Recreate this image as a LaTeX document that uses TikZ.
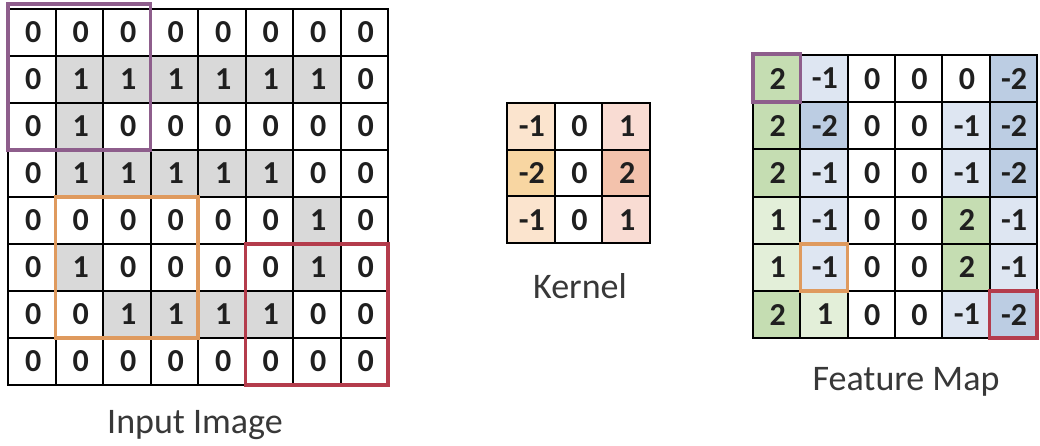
\documentclass[tikz,border=0pt]{standalone}
\usepackage{fontspec}
\setmainfont{Carlito}
\definecolor{gcell}{HTML}{D9D9D9}
\definecolor{kpeach}{HTML}{FBE4CE}
\definecolor{kyel}{HTML}{F8D6A2}
\definecolor{krose}{HTML}{F9DCD3}
\definecolor{krose2}{HTML}{F3C2AC}
\definecolor{fgreen}{HTML}{C5DDB2}
\definecolor{flgreen}{HTML}{E3EFD9}
\definecolor{fblue}{HTML}{BCCDE3}
\definecolor{flblue}{HTML}{DEE6F2}
\definecolor{pboxc}{HTML}{8E5E8C}
\definecolor{oboxc}{HTML}{DF9A5E}
\definecolor{rboxc}{HTML}{B43C4C}
\begin{document}
\begin{tikzpicture}[x=1pt,y=-1pt,
  cellbase/.style={inner sep=0pt, outer sep=0pt, anchor=center, text depth=0pt,
    font=\fontsize{32}{32}\selectfont\bfseries, text=black!88},
  incell/.style={cellbase, minimum width=47.5pt, minimum height=47pt},
  kcell/.style={cellbase, minimum width=47.7pt, minimum height=46.7pt},
  fcell/.style={cellbase, minimum width=47.3pt, minimum height=47.2pt},
  inval0/.style={}, inval1/.style={fill=gcell},
  cw/.style={}, cg/.style={fill=fgreen}, clg/.style={fill=flgreen},
  cb/.style={fill=fblue}, clb/.style={fill=flblue},
  cko/.style={fill=kpeach}, cky/.style={fill=kyel}, ckr/.style={fill=krose}, ckr2/.style={fill=krose2},
  gridline/.style={line width=2pt, black, line cap=rect},
  lbl/.style={font=\fontsize{36}{36}\selectfont, text=black!78},
  purplebox/.style={draw=pboxc, line width=3.5pt},
  orangebox/.style={draw=oboxc, line width=3.5pt},
  redbox/.style={draw=rboxc, line width=3.5pt}]
\useasboundingbox (0,0) rectangle (1040,446);
\fill[white] (0,0) rectangle (1040,446);

% ---------- Input image ----------
\foreach \row [count=\r from 0] in {
  {0,0,0,0,0,0,0,0},
  {0,1,1,1,1,1,1,0},
  {0,1,0,0,0,0,0,0},
  {0,1,1,1,1,1,0,0},
  {0,0,0,0,0,0,1,0},
  {0,1,0,0,0,0,1,0},
  {0,0,1,1,1,1,0,0},
  {0,0,0,0,0,0,0,0}} {
  \foreach \v [count=\c from 0] in \row {
    \node[incell, inval\v] (in-\r-\c) at ({8+47.5*(\c+0.5)},{9+47*(\r+0.5)}) {\hspace*{3pt}\v};
  }
}
\foreach \i in {0,...,8} {
  \draw[gridline] ({8+47.5*\i},9) -- ({8+47.5*\i},385);
  \draw[gridline] (8,{9+47*\i}) -- (388,{9+47*\i});
}

% ---------- Kernel ----------
\foreach \row [count=\r from 0] in {
  {-1/cko,0/cw,1/ckr},
  {-2/cky,0/cw,2/ckr2},
  {-1/cko,0/cw,1/ckr}} {
  \foreach \v/\k [count=\c from 0] in \row {
    \node[kcell, \k] (k-\r-\c) at ({507+47.7*(\c+0.5)},{103+46.7*(\r+0.5)}) {\hspace*{2pt}\v};
  }
}
\foreach \i in {0,...,3} {
  \draw[gridline] ({507+47.7*\i},103) -- ({507+47.7*\i},243.1);
  \draw[gridline] (507,{103+46.7*\i}) -- (650.1,{103+46.7*\i});
}

% ---------- Feature map ----------
\foreach \row [count=\r from 0] in {
  {2/cg,-1/clb,0/cw,0/cw,0/cw,-2/cb},
  {2/cg,-2/cb,0/cw,0/cw,-1/clb,-2/cb},
  {2/cg,-1/clb,0/cw,0/cw,-1/clb,-2/cb},
  {1/clg,-1/clb,0/cw,0/cw,2/cg,-1/clb},
  {1/clg,-1/clb,0/cw,0/cw,2/cg,-1/clb},
  {2/cg,1/clg,0/cw,0/cw,-1/clb,-2/cb}} {
  \foreach \v/\k [count=\c from 0] in \row {
    \node[fcell, \k] (f-\r-\c) at ({753+47.3*(\c+0.5)},{55+47.2*(\r+0.5)}) {\hspace*{2pt}\v};
  }
}
\foreach \i in {0,...,6} {
  \draw[gridline] ({753+47.3*\i},55) -- ({753+47.3*\i},338.2);
  \draw[gridline] (753,{55+47.2*\i}) -- (1036.8,{55+47.2*\i});
}

% ---------- Highlight boxes ----------
\draw[purplebox] ([yshift=5pt]in-0-0.north west) rectangle (in-2-2.south east);
\draw[orangebox] (in-4-1.north west) rectangle (in-6-3.south east);
\draw[redbox] (in-5-5.north west) rectangle (in-7-7.south east);
\draw[purplebox] ([yshift=1pt]f-0-0.north west) rectangle (f-0-0.south east);
\draw[orangebox] (f-4-1.north west) rectangle (f-4-1.south east);
\draw[redbox] (f-5-5.north west) rectangle (f-5-5.south east);

% ---------- Labels ----------
\node[lbl] (lin) at (195,425) {Input Image};
\node[lbl] (lk) at (580,286) {Kernel};
\node[lbl] (lf) at (906,382) {Feature Map};
\end{tikzpicture}
\end{document}
